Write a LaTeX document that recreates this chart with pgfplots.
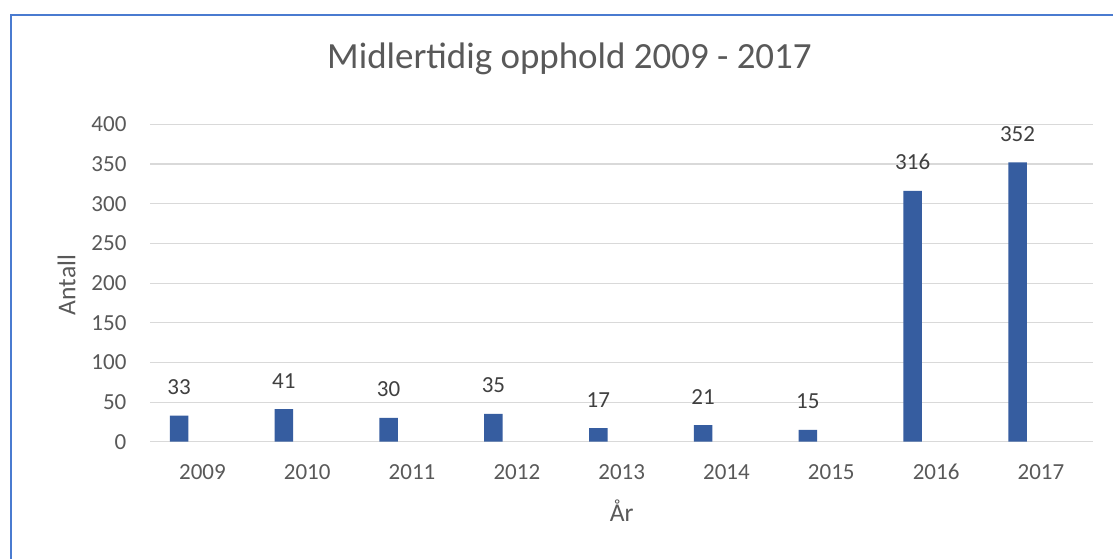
\documentclass[border=0pt]{standalone}
\usepackage{fontspec}
\setmainfont{Carlito}
\usepackage{pgfplots}
\pgfplotsset{compat=1.18}
\definecolor{barblue}{RGB}{54,93,160}
\definecolor{gridgray}{HTML}{D9D9D9}
\definecolor{ticktext}{HTML}{595959}
\definecolor{labeltext}{HTML}{404040}
\definecolor{frameblue}{HTML}{4A7BD0}
\begin{document}
\begin{tikzpicture}
\useasboundingbox (0,0) rectangle (834.75pt,418.5pt);
\fill[white] (0,0) rectangle (834.75pt,418.5pt);
\draw[frameblue, line width=1.2pt] (8.25pt,-5pt) -- (8.25pt,407.25pt) -- (840pt,407.25pt);
\begin{axis}[
  at={(112.5pt,87.2pt)}, anchor=south west,
  scale only axis,
  width=707.5pt, height=238.05pt,
  xmin=-0.5, xmax=8.5, ymin=0, ymax=400,
  enlargelimits=false,
  ybar, bar width=13.875pt, bar shift=-17.55pt,
  xtick={0,1,2,3,4,5,6,7,8},
  xticklabels={2009,2010,2011,2012,2013,2014,2015,2016,2017},
  ytick={0,50,100,150,200,250,300,350,400},
  ymajorgrids, grid style={gridgray, line width=0.8pt},
  axis line style={draw=none},
  tick style={draw=none},
  major tick length=0pt,
  /pgf/number format/assume math mode=true,
  tick label style={font=\fontsize{17.25}{20}\selectfont, text=ticktext},
  xticklabel style={anchor=base, yshift=-28.5pt, inner sep=0pt},
  yticklabel style={anchor=east, xshift=-17.5pt, inner sep=0pt},
  ylabel={Antall},
  ylabel style={at={(axis description cs:0,0.5)}, anchor=center, yshift=62.5pt, xshift=-1.5pt, inner sep=0pt, font=\fontsize{19.2}{22}\selectfont, text=ticktext},
  xlabel={År},
  xlabel style={at={(axis description cs:0.5,0)}, anchor=base, yshift=-60pt, inner sep=0pt, font=\fontsize{19.2}{22}\selectfont, text=ticktext},
  title={Midlertidig opphold 2009 - 2017},
  title style={at={(axis description cs:0.4447,1)}, anchor=base, yshift=35.7pt, inner sep=0pt, font=\fontsize{27.7}{32}\selectfont, text=ticktext},
  nodes near coords,
  every node near coord/.append style={anchor=base, yshift=15.75pt, inner sep=0pt, font=\fontsize{17.25}{20}\selectfont, text=labeltext},
]
\addplot[draw=none, fill=barblue] coordinates {
  (0,33) (1,41) (2,30) (3,35) (4,17) (5,21) (6,15) (7,316) (8,352)
};
\end{axis}
\end{tikzpicture}
\end{document}
